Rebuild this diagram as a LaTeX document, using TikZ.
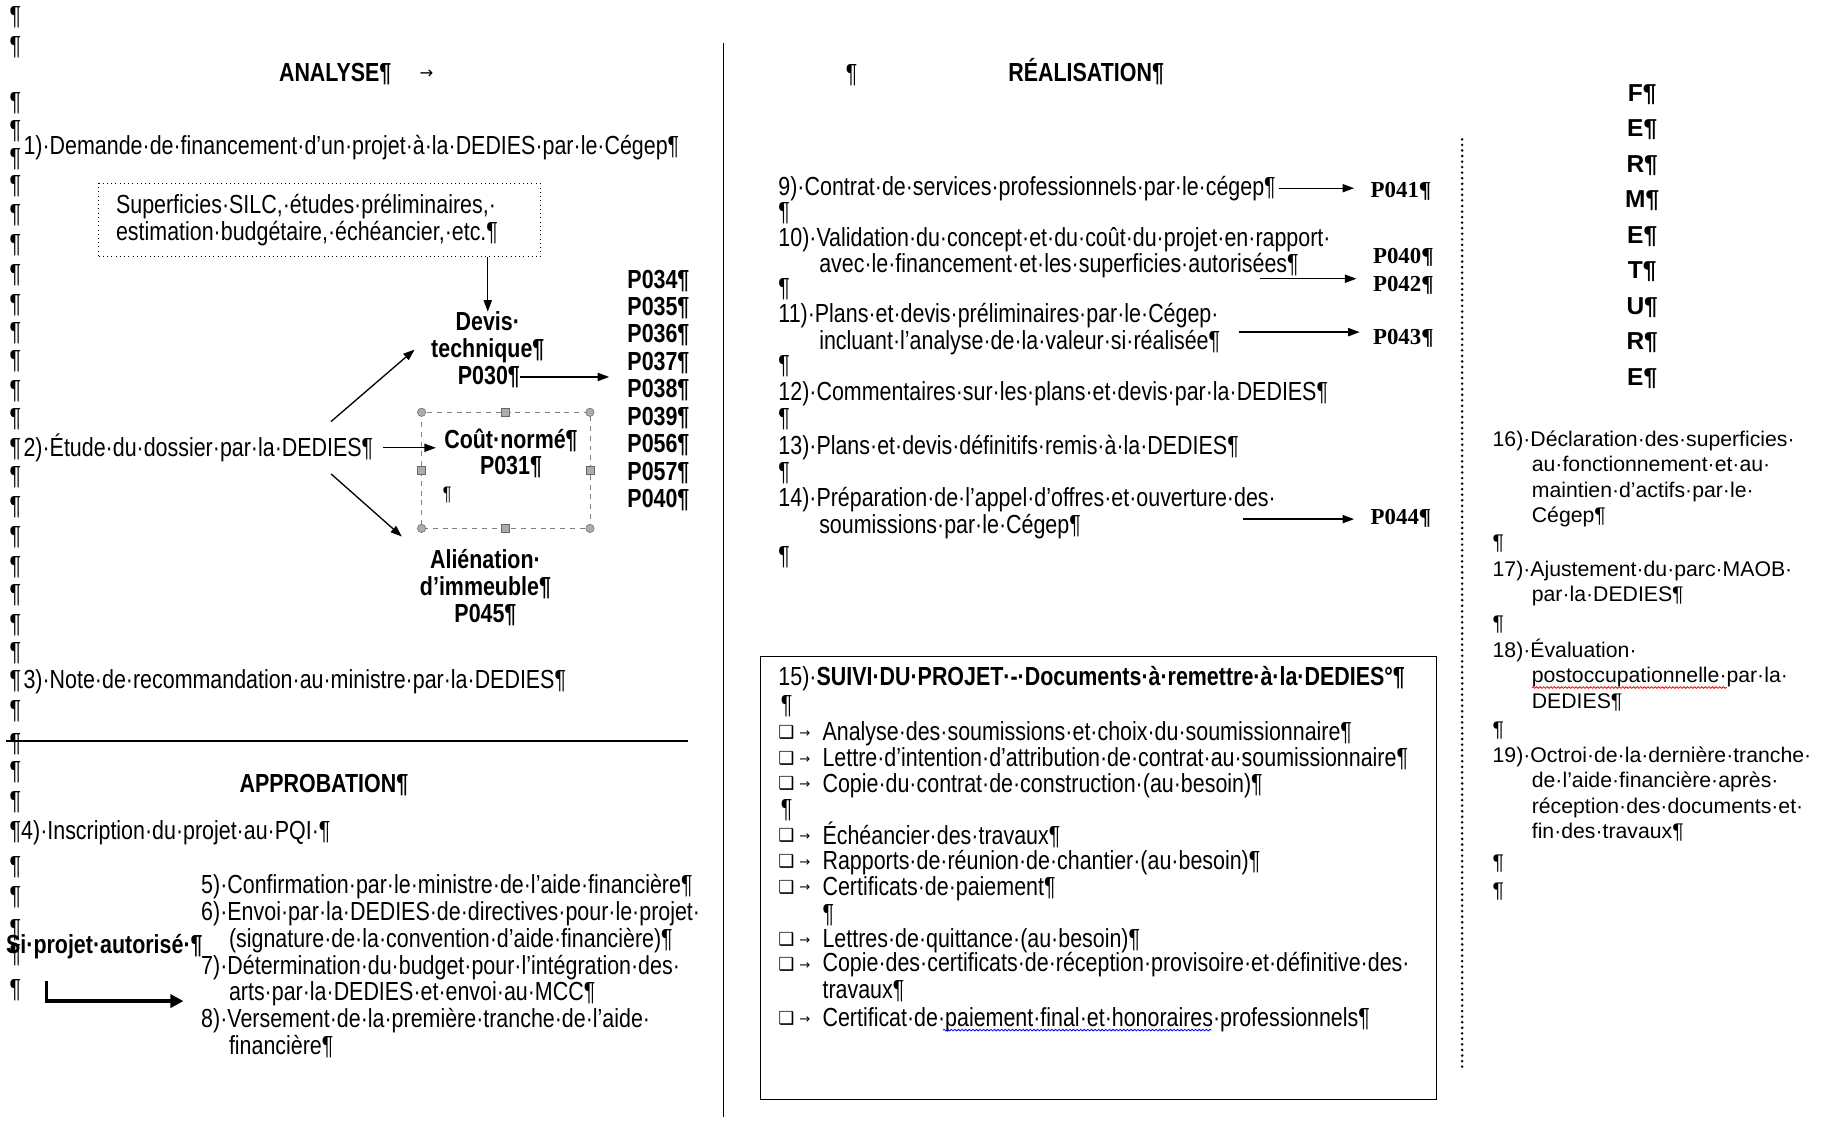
\documentclass[tikz,border=0pt]{standalone}
\usepackage{fontspec}
\setmainfont{Liberation Sans}
\newfontfamily\narrow{Liberation Sans}[FakeStretch=0.82]
\newfontfamily\tmsfont{Liberation Serif}
\newfontfamily\symfont{DejaVu Sans}
\newcommand\nar{\narrow\fontsize{16}{16.4}\selectfont}
\newcommand\rgt{\fontsize{13}{15.6}\selectfont}
\usetikzlibrary{arrows.meta,decorations.pathmorphing}

\tikzset{
  txt/.style={anchor=base west, inner sep=0pt, font=\nar, align=left},
  ttl/.style={anchor=base, inner sep=0pt, font=\nar\bfseries, align=center},
  pcode/.style={anchor=base west, inner sep=0pt, font=\tmsfont\bfseries\fontsize{14}{16}\selectfont},
  rtxt/.style={anchor=base west, inner sep=0pt, font=\rgt, align=left},
  arr/.style={-{Triangle[length=7pt,width=5pt]}, line width=0.8pt},
  handle/.style={fill=gray!65, draw=gray!80!black, line width=0.3pt},
  wavy/.style={decorate, decoration={snake, amplitude=0.5pt, segment length=2.2pt}, line width=0.5pt}
}

\begin{document}
\begin{tikzpicture}[x=0.025cm, y=-0.025cm]
  \useasboundingbox (0,0) rectangle (1568,966);

  % analyse
  \foreach \y [count=\k] in {14,40,88,112,136,160,185,210,236,262,286,310,336,360,386,410,436,462,488,512,538,562,586,612,640,664,690,716,746,772,800,822,852}
    \node[txt] (lp\k) at (8,\y+7) {¶};
  \node[txt, font=\nar\bfseries] (analyse) at (240,70) {ANALYSE¶};
  \node[txt, font=\symfont\fontsize{10}{10}\selectfont] (tab1) at (361,68) {→};
  \node[txt] (l1) at (20,133) {1)·Demande·de·financement·d’un·projet·à·la·DEDIES·par·le·Cégep¶};
  \node[draw, dotted, line width=0.6pt, inner xsep=0.375cm, inner ysep=0pt, text width=8.75cm,
        minimum height=1.575cm, align=left, font=\nar] (superf) at (275,189.5)
    {Superficies·SILC,·études·préliminaires,·\\estimation·budgétaire,·échéancier,·etc.¶};
  \node[ttl] (devis) at (420,308) {Devis·\\technique¶};
  \node[ttl] (p030) at (421,331) {P030¶};
  \node[txt, font=\narrow\bfseries\fontsize{16}{16.8}\selectfont] (plist) at (540,437)
    {P034¶\\P035¶\\P036¶\\P037¶\\P038¶\\P039¶\\P056¶\\P057¶\\P040¶};
  \node[txt] (etude) at (20,393) {2)·Étude·du·dossier·par·la·DEDIES¶};
  \node[ttl] (cout) at (440,409) {Coût·normé¶\\P031¶};
  \node[txt, font=\narrow\fontsize{12}{12}\selectfont] (cpil) at (381,431) {¶};
  \node[ttl] (alien) at (418,536) {Aliénation·\\d’immeuble¶\\P045¶};
  \node[txt] (l3) at (20,593) {3)·Note·de·recommandation·au·ministre·par·la·DEDIES¶};

  \draw[arr] (devis.north |- superf.south) -- (devis.north);
  \draw[arr, shorten >=11pt] (p030.east) -- (p030.east -| plist.west);
  \coordinate (eu) at (285,363);
  \coordinate (eu2) at (357,301);
  \coordinate (ed) at (285,408);
  \coordinate (ed2) at (346,462);
  \draw[arr] (eu) -- (eu2);
  \draw[arr, shorten <=6pt, shorten >=5pt] (etude.east) -- (etude.east -| cout.west);
  \draw[arr] (ed) -- (ed2);

  % selection frame
  \draw[gray, dashed, line width=0.4pt] (363,355) rectangle (508,455);
  \foreach \p in {(363,355),(508,355),(363,455),(508,455)}
    \fill[handle] \p circle (3.6);
  \foreach \p in {(435,355),(435,455),(363,405),(508,405)}
    \filldraw[handle] \p ++(-3.5,-3.5) rectangle ++(7,7);

  \draw[line width=0.8pt] (5,638) -- (592,638);

  % approbation
  \node[txt, font=\nar\bfseries] (approb) at (206,682) {APPROBATION¶};
  \node[txt] (l4) at (18,723) {4)·Inscription·du·projet·au·PQI·¶};
  \node[txt] (l5) at (173,908) {5)·Confirmation·par·le·ministre·de·l’aide·financière¶\\
    6)·Envoi·par·la·DEDIES·de·directives·pour·le·projet·\\
    \hspace*{17pt}(signature·de·la·convention·d’aide·financière)¶\\
    7)·Détermination·du·budget·pour·l’intégration·des·\\
    \hspace*{17pt}arts·par·la·DEDIES·et·envoi·au·MCC¶\\
    8)·Versement·de·la·première·tranche·de·l’aide·\\
    \hspace*{17pt}financière¶};
  \node[txt, font=\nar\bfseries] (si) at (5,821) {Si·projet·autorisé·¶};
  \coordinate (sid) at (40,845);
  \coordinate (sie) at (158,862);
  \draw[line width=2.2pt, -{Triangle[length=8pt,width=8pt]}] (sid) |- (sie);

  \draw[line width=0.8pt] (623,37) -- (623,962);

  % realisation
  \node[txt] (rpil) at (728,71) {¶};
  \node[txt, font=\nar\bfseries] (realis) at (868,70) {RÉALISATION¶};
  \node[txt] (c9) at (670,168) {9)·Contrat·de·services·professionnels·par·le·cégep¶};
  \node[txt] (c9p) at (670,190) {¶};
  \node[txt] (c10) at (670,235) {10)·Validation·du·concept·et·du·coût·du·projet·en·rapport·\\
    \hspace*{25pt}avec·le·financement·et·les·superficies·autorisées¶};
  \node[txt] (c10p) at (670,255) {¶};
  \node[txt] (c11) at (670,301) {11)·Plans·et·devis·préliminaires·par·le·Cégep·\\
    \hspace*{25pt}incluant·l’analyse·de·la·valeur·si·réalisée¶};
  \node[txt] (c11p) at (670,322) {¶};
  \node[txt] (c12) at (670,345) {12)·Commentaires·sur·les·plans·et·devis·par·la·DEDIES¶};
  \node[txt] (c12p) at (670,367) {¶};
  \node[txt] (c13) at (670,391) {13)·Plans·et·devis·définitifs·remis·à·la·DEDIES¶};
  \node[txt] (c13p) at (670,414) {¶};
  \node[txt] (c14) at (670,459) {14)·Préparation·de·l’appel·d’offres·et·ouverture·des·\\
    \hspace*{25pt}soumissions·par·le·Cégep¶};
  \node[txt] (c14p) at (670,486) {¶};

  \node[pcode] (p041) at (1180,170) {P041¶};
  \node[pcode] (p040) at (1182,227) {P040¶};
  \node[pcode] (p042) at (1182,251) {P042¶};
  \node[pcode] (p043) at (1182,297) {P043¶};
  \node[pcode] (p044) at (1180,452) {P044¶};
  \coordinate (a10) at (1085,240);
  \coordinate (a11) at (1067,286);
  \coordinate (a14) at (1070,447);
  \draw[arr, shorten <=2pt, shorten >=10pt] (c9.east) -- (c9.east -| p041.west);
  \draw[arr, shorten >=10pt] (a10) -- (a10 -| p042.west);
  \draw[arr, shorten >=8pt] (a11) -- (a11 -| p043.west);
  \draw[arr, shorten >=10pt] (a14) -- (a14 -| p044.west);

  % suivi
  \draw[line width=0.8pt] (655,565) rectangle (1237,947);
  \node[txt] (s15) at (670,590) {15)·\textbf{SUIVI·DU·PROJET·-·Documents·à·remettre·à·la·DEDIES°¶}};
  \node[txt] (s15p) at (672,614) {¶};
  \foreach \y/\b/\t in {631/638/Analyse·des·soumissions·et·choix·du·soumissionnaire¶,
      653/660/Lettre·d’intention·d’attribution·de·contrat·au·soumissionnaire¶,
      675/682/Copie·du·contrat·de·construction·(au·besoin)¶,
      720/727/Échéancier·des·travaux¶,
      742/749/Rapports·de·réunion·de·chantier·(au·besoin)¶,
      764/771/Certificats·de·paiement¶,
      809/816/Lettres·de·quittance·(au·besoin)¶,
      831/860/Copie·des·certificats·de·réception·provisoire·et·définitive·des·\\travaux¶,
      877/884/Certificat·de·paiement·final·et·honoraires·professionnels¶}{
    \node[txt, font=\symfont\bfseries\fontsize{11}{11}\selectfont] (box\y) at (670,\y+5) {❑};
    \node[txt, font=\symfont\fontsize{8}{8}\selectfont] (tab\y) at (688,\y+4) {→};
    \node[txt] (doc\y) at (708,\b) {\t};
  }
  \node[txt] (s15p2) at (672,704) {¶};
  \node[txt] (s15p3) at (708,794) {¶};
  \draw[wavy, blue] (812,887) -- (1043,887);

  \draw[line width=1.7pt, line cap=round, dash pattern=on 0pt off 3.4pt] (1259,120) -- (1259,922);

  % fermeture
  \foreach \l [count=\i] in {F,E,R,M,E,T,U,R,E}
    \node[anchor=base, inner sep=0pt, font=\bfseries\fontsize{15}{15}\selectfont] (f\i) at (1414,{87+30.6*(\i-1)}) {\l¶};
  \node[rtxt] (r16) at (1285,450) {16)·Déclaration·des·superficies·\\
    \hspace*{24pt}au·fonctionnement·et·au·\\
    \hspace*{24pt}maintien·d’actifs·par·le·\\
    \hspace*{24pt}Cégep¶};
  \node[rtxt] (r16p) at (1285,473) {¶};
  \node[rtxt] (r17) at (1285,518) {17)·Ajustement·du·parc·MAOB·\\
    \hspace*{24pt}par·la·DEDIES¶};
  \node[rtxt] (r17p) at (1285,543) {¶};
  \node[rtxt] (r18) at (1285,610) {18)·Évaluation·\\
    \hspace*{24pt}postoccupationnelle·par·la·\\
    \hspace*{24pt}DEDIES¶};
  \node[rtxt] (r18p) at (1285,634) {¶};
  \node[rtxt] (r19) at (1285,722) {19)·Octroi·de·la·dernière·tranche·\\
    \hspace*{24pt}de·l’aide·financière·après·\\
    \hspace*{24pt}réception·des·documents·et·\\
    \hspace*{24pt}fin·des·travaux¶};
  \node[rtxt] (r19p) at (1285,749) {¶};
  \node[rtxt] (r19q) at (1285,773) {¶};
  \draw[wavy, red] (1319,592) -- (1487,592);
\end{tikzpicture}
\end{document}
